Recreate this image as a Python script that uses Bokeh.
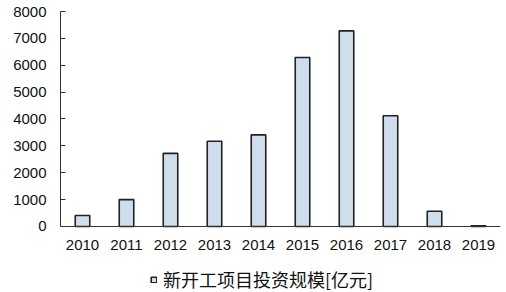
from bokeh.plotting import figure
from bokeh.models import Range1d, Legend, LegendItem, ColumnDataSource
from bokeh.embed import file_html
from bokeh.resources import INLINE

years = ["2010", "2011", "2012", "2013", "2014", "2015", "2016", "2017", "2018", "2019"]
values = [410, 1000, 2720, 3170, 3410, 6290, 7280, 4120, 570, 30]
series_name = "新开工项目投资规模[亿元]"
y_ticks = [0, 1000, 2000, 3000, 4000, 5000, 6000, 7000, 8000]

src = ColumnDataSource(dict(x=years, top=values))

p = figure(width=506, height=292, x_range=years, y_range=Range1d(-2456, 8000),
           output_backend="svg", toolbar_location=None,
           min_border_left=60, min_border_right=6, min_border_top=11, min_border_bottom=0)

r = p.vbar(x="x", top="top", width=0.33, source=src,
           fill_color="#cfdeec", line_color="#222222", line_width=1.6)

p.xgrid.visible = False
p.ygrid.visible = False
p.outline_line_color = None
p.background_fill_color = "white"
p.border_fill_color = "white"

p.yaxis.ticker = y_ticks
p.yaxis.bounds = (0, 8000)
p.yaxis.major_tick_in = 5
p.yaxis.major_tick_out = 0
p.yaxis.minor_tick_line_color = None
p.yaxis.axis_line_color = "#333333"
p.yaxis.major_tick_line_color = "#333333"
p.yaxis.major_label_standoff = 14
p.yaxis.major_label_text_font = "Liberation Sans"
p.yaxis.major_label_text_font_size = "15px"
p.yaxis.major_label_text_color = "#111111"

p.xaxis.fixed_location = 0
p.xaxis.major_tick_line_color = None
p.xaxis.minor_tick_line_color = None
p.xaxis.axis_line_color = "#333333"
p.xaxis.major_label_standoff = 8
p.xaxis.major_label_text_font = "Liberation Sans"
p.xaxis.major_label_text_font_size = "15px"
p.xaxis.major_label_text_color = "#111111"

legend = Legend(items=[LegendItem(label=series_name, renderers=[r])],
                orientation="horizontal", location=(90, 0),
                glyph_width=7, glyph_height=7, label_text_font="Noto Sans CJK SC",
                label_text_font_size="18px", label_text_color="#111111",
                border_line_color=None, background_fill_alpha=0,
                padding=0, margin=0, spacing=0, label_standoff=6)
p.add_layout(legend, "center")

open("out.html", "w").write(file_html(p, INLINE))
